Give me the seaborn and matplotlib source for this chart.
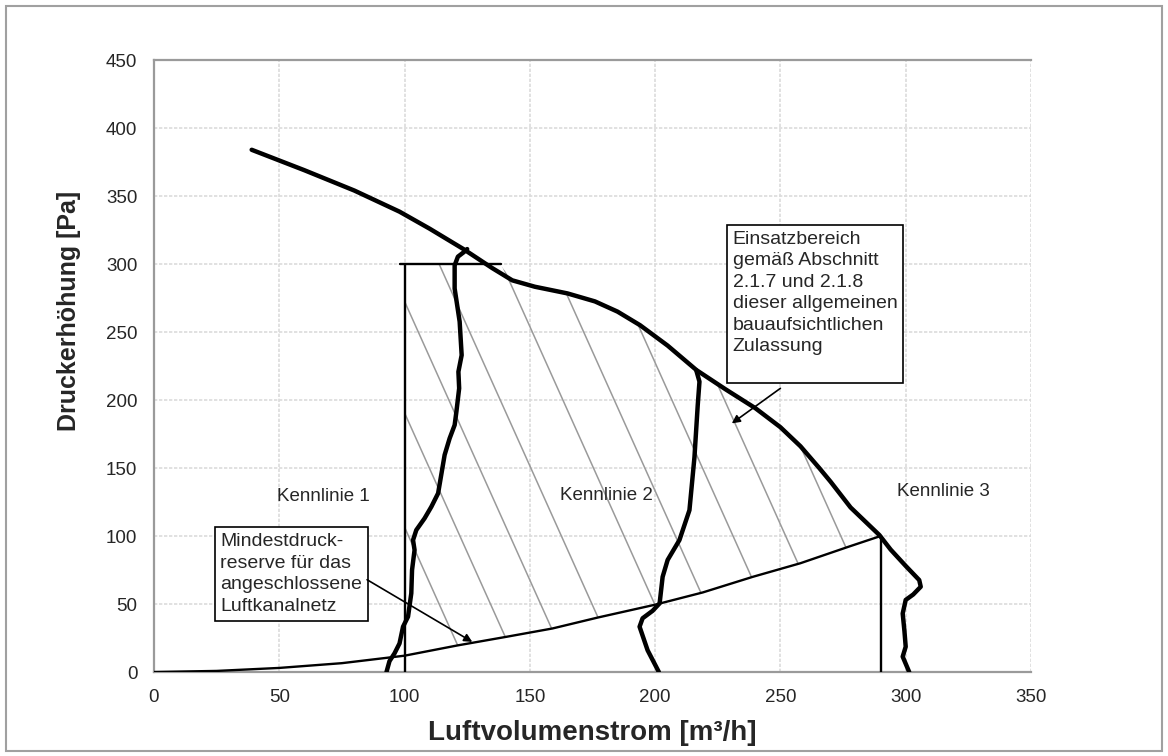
import numpy as np
import pandas as pd
import matplotlib
matplotlib.use("Agg")
import matplotlib.pyplot as plt
from matplotlib.patches import Polygon, Rectangle
import seaborn as sns

# =========================
# DATA
# =========================
# fan curve, continuing as Kennlinie 3
fan_x = [39, 60, 80, 98, 110, 123.5, 135, 143, 152, 165, 176, 185, 194, 205, 216.5,
         228, 240, 250, 258, 265.5, 270, 278, 289.5, 294, 300, 305.4, 306, 303, 300,
         298.8, 299.5, 300, 298.8, 301.4]
fan_y = [384, 369, 354, 338.5, 326, 311, 297, 288, 283.3, 278.4, 272.5, 265, 255, 240, 222,
         208, 194, 180, 166, 150, 140, 121, 100.7, 90, 78, 67.6, 62.7, 57, 53,
         43, 30, 18.6, 11.3, 0]

# Kennlinie 1
k1_x = [92.8, 94, 96, 98, 99.4, 101.4, 102.7, 103, 104, 103.4, 104.7, 108, 110.7, 113.4,
        115.3, 116, 118, 120, 120.7, 121.8, 121.5, 122.8, 122, 120, 120, 121.3, 123.5, 125]
k1_y = [0, 8, 13.7, 21, 33.3, 40.7, 57.9, 75, 89.7, 97, 104.4, 113, 121.5, 131.4,
        152, 159.6, 171.8, 181.6, 191.4, 208.6, 220.8, 233, 257.6, 282, 299, 305.4, 308.5, 311]

# Kennlinie 2
k2_x = [201.5, 197, 193.8, 195, 199, 201.8, 203, 205, 209.7, 213.7, 215.7, 217, 217.7, 216.4]
k2_y = [0, 16, 33.3, 39.5, 45, 50.5, 70, 82.4, 97, 119, 158, 196, 213.5, 222]

# Mindestdruckreserve
res_x = [0, 25, 50, 75, 100, 121, 141, 159, 177, 200, 219, 239, 258, 277, 290]
res_y = [0, 0.8, 3, 6.5, 12, 19.5, 26, 32, 40, 49.5, 58.5, 70, 80, 92, 100]

# hatch lines: x = c - 0.244 * y
hatch_c = [126, 146.5, 166.5, 187, 212, 232.5, 255.5, 276.5, 298.5]

fan = pd.DataFrame({"x": fan_x, "y": fan_y})
k1 = pd.DataFrame({"x": k1_x, "y": k1_y})
k2 = pd.DataFrame({"x": k2_x, "y": k2_y})
res = pd.DataFrame({"x": res_x, "y": res_y})

# =========================
# STYLE
# =========================
sns.set_style("white")
plt.rcParams['font.family'] = ['Liberation Sans', 'DejaVu Sans']

fig = plt.figure(figsize=(11.68, 7.56), dpi=100)
ax = fig.add_axes([0.1318, 0.1111, 0.7509, 0.8095])

# figure frame
fig.patches.append(Rectangle((0.005, 0.007), 0.99, 0.985, transform=fig.transFigure,
                             fill=False, edgecolor="#a0a0a0", linewidth=1.5))

# =========================
# HATCHED REGION
# =========================
top = fan[(fan.x >= 138) & (fan.x <= 289.5)]
poly_pts = ([(100, 0)] + [(x, y) for x, y in zip(res_x, res_y) if x >= 100]
            + [(x, y) for x, y in zip(top.x[::-1], top.y[::-1])]
            + [(138, 300), (100, 300)])
region = Polygon(poly_pts, closed=True, facecolor="none", edgecolor="none")
ax.add_patch(region)
yy = np.array([0, 320])
for c in hatch_c:
    ln, = ax.plot(c - 0.244 * yy, yy, color="#9a9a9a", lw=1.1, zorder=2)
    ln.set_clip_path(region)

# =========================
# CURVES
# =========================
kw = dict(sort=False, estimator=None, color="black", legend=False, ax=ax, zorder=4)
sns.lineplot(data=fan, x="x", y="y", lw=3.2, **kw)
sns.lineplot(data=k1, x="x", y="y", lw=3.2, **kw)
sns.lineplot(data=k2, x="x", y="y", lw=3.2, **kw)
sns.lineplot(data=res, x="x", y="y", lw=1.7, **kw)

ax.plot([100, 100], [0, 300], color="black", lw=1.7, zorder=3)
ax.plot([98, 138.6], [300, 300], color="black", lw=1.7, zorder=3)
ax.plot([290, 290], [0, 100], color="black", lw=1.7, zorder=3)

# =========================
# TEXT
# =========================
fs = 13.5
ax.text(67.5, 129, "Kennlinie 1", ha="center", va="center", fontsize=fs)
ax.text(180.5, 130, "Kennlinie 2", ha="center", va="center", fontsize=fs)
ax.text(315, 132.6, "Kennlinie 3", ha="center", va="center", fontsize=fs)

box = dict(boxstyle="square,pad=0.3", facecolor="white", edgecolor="black", lw=1.2)
ax.text(231, 324.5, "Einsatzbereich\ngemäß Abschnitt\n2.1.7 und 2.1.8\ndieser allgemeinen\n"
        "bauaufsichtlichen\nZulassung\n", ha="left", va="top", fontsize=14,
        linespacing=1.35, bbox=box, zorder=6)
ax.annotate("", xy=(229.7, 181.6), xytext=(250.9, 209.8),
            arrowprops=dict(arrowstyle="-|>", color="black", lw=1.2,
                            mutation_scale=12), zorder=6)

ax.text(26.5, 102, "Mindestdruck-\nreserve für das\nangeschlossene\nLuftkanalnetz",
        ha="left", va="top", fontsize=14, linespacing=1.35, bbox=box, zorder=6)
ax.annotate("", xy=(128, 21.1), xytext=(84.1, 68.9),
            arrowprops=dict(arrowstyle="-|>", color="black", lw=1.2,
                            mutation_scale=12), zorder=6)

# =========================
# AXES
# =========================
ax.set_xlim(0, 350)
ax.set_ylim(0, 450)
ax.set_xticks(np.arange(0, 351, 50))
ax.set_yticks(np.arange(0, 451, 50))
ax.set_xticks(np.arange(0, 351, 25), minor=True)
ax.set_yticks(np.arange(0, 451, 25), minor=True)
ax.tick_params(which="both", direction="out", color="#909090", width=1.2)
ax.tick_params(which="major", length=7, labelsize=13.5, pad=5)
ax.tick_params(which="minor", length=7)
ax.grid(True, which="major", color="#dcdcdc", linestyle=(0, (2, 1)), lw=1.2, zorder=0)
ax.set_axisbelow(True)
for s in ["left", "bottom", "top"]:
    ax.spines[s].set_color("#9a9a9a")
    ax.spines[s].set_linewidth(1.6)
ax.spines["right"].set_visible(False)

ax.set_xlabel("Luftvolumenstrom [m³/h]", fontsize=20, fontweight="bold", labelpad=10)
ax.set_ylabel("Druckerhöhung [Pa]", fontsize=18, fontweight="bold")
ax.yaxis.set_label_coords(-0.0835, 0.59)

fig.savefig("out.png", dpi=100)
